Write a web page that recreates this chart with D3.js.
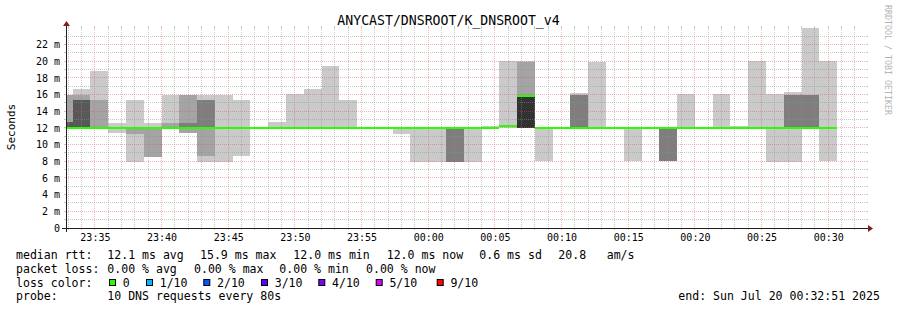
<!DOCTYPE html>
<html>
<head>
<meta charset="utf-8">
<script src="https://cdn.jsdelivr.net/npm/d3@7"></script>
<style>
    body { margin: 0; background: #fff; }
    text { font-family: "DejaVu Sans Mono", monospace; }
</style>
</head>
<body>
<div id="chart"></div>
<script>
// --- Data ---

// Each step is 80 s long, the first full step ends at 23:33:20
const stepSeconds = 80;
const firstStepEnd = new Date(2025, 6, 19, 23, 33, 20);
const viewStart = new Date(2025, 6, 19, 23, 32, 50);
const viewEnd = new Date(2025, 6, 20, 0, 32, 50);

// The 10 sorted ping times of every step in ms
const pings = [
    [12.0, 12.0, 12.0, 12.0, 12.0, 12.0, 12.7, 12.7, 16.0, 16.0],
    [12.0, 12.0, 12.0, 12.0, 12.0, 12.0, 15.36, 15.36, 16.0, 16.7],
    [12.0, 12.0, 12.0, 12.0, 12.0, 12.0, 12.0, 12.0, 15.36, 18.84],
    [11.36, 12.0, 12.0, 12.0, 12.0, 12.0, 12.0, 12.0, 12.0, 12.64],
    [7.96, 11.3, 12.0, 12.0, 12.0, 12.0, 12.0, 12.0, 12.0, 15.36],
    [8.56, 8.56, 12.0, 12.0, 12.0, 12.0, 12.0, 12.0, 12.0, 12.6],
    [12.0, 12.0, 12.0, 12.0, 12.0, 12.0, 12.0, 12.0, 12.64, 16.0],
    [11.36, 11.36, 12.0, 12.0, 12.0, 12.0, 12.0, 12.64, 16.0, 16.0],
    [7.96, 8.64, 12.0, 12.0, 12.0, 12.0, 12.0, 15.36, 15.36, 16.0],
    [7.96, 12.0, 12.0, 12.0, 12.0, 12.0, 12.0, 12.0, 12.0, 16.0],
    [8.64, 12.0, 12.0, 12.0, 12.0, 12.0, 12.0, 12.0, 12.0, 15.36],
    [12.0, 12.0, 12.0, 12.0, 12.0, 12.0, 12.0, 12.0, 12.0, 12.0],
    [12.0, 12.0, 12.0, 12.0, 12.0, 12.0, 12.0, 12.0, 12.0, 12.76],
    [12.0, 12.0, 12.0, 12.0, 12.0, 12.0, 12.0, 12.0, 12.0, 16.08],
    [12.0, 12.0, 12.0, 12.0, 12.0, 12.0, 12.0, 12.0, 12.0, 16.68],
    [12.0, 12.0, 12.0, 12.0, 12.0, 12.0, 12.0, 12.0, 12.0, 19.44],
    [12.0, 12.0, 12.0, 12.0, 12.0, 12.0, 12.0, 12.0, 12.0, 15.36],
    [12.0, 12.0, 12.0, 12.0, 12.0, 12.0, 12.0, 12.0, 12.0, 12.0],
    [12.0, 12.0, 12.0, 12.0, 12.0, 12.0, 12.0, 12.0, 12.0, 12.0],
    [11.3, 12.0, 12.0, 12.0, 12.0, 12.0, 12.0, 12.0, 12.0, 12.0],
    [7.96, 12.0, 12.0, 12.0, 12.0, 12.0, 12.0, 12.0, 12.0, 12.0],
    [7.96, 12.0, 12.0, 12.0, 12.0, 12.0, 12.0, 12.0, 12.0, 12.0],
    [7.96, 7.96, 7.96, 12.0, 12.0, 12.0, 12.0, 12.0, 12.0, 12.0],
    [7.96, 12.0, 12.0, 12.0, 12.0, 12.0, 12.0, 12.0, 12.0, 12.0],
    [12.0, 12.0, 12.0, 12.0, 12.0, 12.0, 12.0, 12.0, 12.0, 12.28],
    [12.0, 12.0, 12.0, 12.0, 12.0, 12.0, 12.0, 12.0, 12.0, 20.04],
    [12.0, 12.0, 12.0, 12.0, 12.0, 15.92, 15.92, 15.92, 19.96, 20.0],
    [8.04, 12.0, 12.0, 12.0, 12.0, 12.0, 12.0, 12.0, 12.0, 12.0],
    [12.0, 12.0, 12.0, 12.0, 12.0, 12.0, 12.0, 12.0, 12.0, 12.0],
    [12.0, 12.0, 12.0, 12.0, 12.0, 12.0, 12.0, 16.0, 16.0, 16.2],
    [12.0, 12.0, 12.0, 12.0, 12.0, 12.0, 12.0, 12.0, 12.0, 19.96],
    [12.0, 12.0, 12.0, 12.0, 12.0, 12.0, 12.0, 12.0, 12.0, 12.0],
    [8.04, 12.0, 12.0, 12.0, 12.0, 12.0, 12.0, 12.0, 12.0, 12.0],
    [12.0, 12.0, 12.0, 12.0, 12.0, 12.0, 12.0, 12.0, 12.0, 12.0],
    [8.04, 8.04, 8.04, 12.0, 12.0, 12.0, 12.0, 12.0, 12.0, 12.0],
    [12.0, 12.0, 12.0, 12.0, 12.0, 12.0, 12.0, 12.0, 12.0, 16.04],
    [12.0, 12.0, 12.0, 12.0, 12.0, 12.0, 12.0, 12.0, 12.0, 12.0],
    [12.0, 12.0, 12.0, 12.0, 12.0, 12.0, 12.0, 12.0, 12.0, 16.04],
    [12.0, 12.0, 12.0, 12.0, 12.0, 12.0, 12.0, 12.0, 12.0, 12.28],
    [12.0, 12.0, 12.0, 12.0, 12.0, 12.0, 12.0, 12.0, 12.0, 20.08],
    [7.96, 12.0, 12.0, 12.0, 12.0, 12.0, 12.0, 12.0, 12.0, 16.08],
    [7.96, 12.0, 12.0, 12.0, 12.0, 12.0, 12.0, 16.0, 16.0, 16.28],
    [12.0, 12.0, 12.0, 12.0, 12.0, 12.0, 12.0, 16.0, 16.0, 24.0],
    [8.04, 12.0, 12.0, 12.0, 12.0, 12.0, 12.0, 12.0, 12.0, 20.08]
];

// Median rtt of every step in ms
const median = [
    12.0, 12.0, 12.0, 12.0, 12.0, 12.0, 12.0, 12.0, 12.0, 12.0, 12.0,
    12.0, 12.0, 12.0, 12.0, 12.0, 12.0, 12.0, 12.0, 12.0, 12.0, 12.0,
    12.0, 12.0, 12.0, 12.2, 15.9, 12.0, 12.0, 12.0, 12.0, 12.0, 12.0,
    12.0, 12.0, 12.0, 12.0, 12.0, 12.0, 12.0, 12.0, 12.0, 12.0, 12.0
];

// Packet loss of every step (lost pings out of 10)
const loss = [
    0, 0, 0, 0, 0, 0, 0, 0, 0, 0, 0,
    0, 0, 0, 0, 0, 0, 0, 0, 0, 0, 0,
    0, 0, 0, 0, 0, 0, 0, 0, 0, 0, 0,
    0, 0, 0, 0, 0, 0, 0, 0, 0, 0, 0
];

const yTickValues = [0, 2, 4, 6, 8, 10, 12, 14, 16, 18, 20, 22];
const lossLabels = ["0", "1/10", "2/10", "3/10", "4/10", "5/10", "9/10"];
const lossColors = ["#26ff00", "#00b8ff", "#0059ff", "#5e00ff", "#7e00ff", "#dd00ff", "#ff0000"];
const rttStats = ["12.1 ms avg", "15.9 ms max", "12.0 ms min", "12.0 ms now", "0.6 ms sd", "20.8", "am/s"];
const lossStats = ["0.00 % avg", "0.00 % max", "0.00 % min", "0.00 % now"];
const probeText = "10 DNS requests every 80s";
const endText = "end: Sun Jul 20 00:32:51 2025";
const titleText = "ANYCAST/DNSROOT/K_DNSROOT_v4";

// --- Drawing ---

const width = 897;
const height = 310;
const plot = { left: 66, top: 28, right: 866, bottom: 228 };

const svg = d3.select("#chart").append("svg")
    .attr("width", width)
    .attr("height", height);

svg.append("rect").attr("width", width).attr("height", height).attr("fill", "#ffffff");

// Scales
const x = d3.scaleTime().domain([viewStart, viewEnd]).range([plot.left, plot.right]);
const y = d3.scaleLinear().domain([0, 24]).range([plot.bottom, plot.top]);

// Time span of a step
const stepEnd = i => new Date(firstStepEnd.getTime() + i * stepSeconds * 1000);
const stepStart = i => new Date(stepEnd(i).getTime() - stepSeconds * 1000);

// Smoke colours like smokeping: outer band light, inner bands darker
const half = 5;
const bandColors = d3.range(1, half + 1).map(i => {
    const c = Math.floor(190 / half * (half - i)) + 50;
    return d3.rgb(c, c, c).formatHex();
});

svg.append("clipPath").attr("id", "plot-clip")
    .append("rect")
    .attr("x", plot.left).attr("y", plot.top)
    .attr("width", plot.right - plot.left).attr("height", plot.bottom - plot.top);

const smoke = [];
pings.forEach((p, i) => {
    for (let b = 0; b < half; b++) {
        const lo = p[b], hi = p[p.length - 1 - b];
        if (hi > lo) smoke.push({ i, b, lo, hi });
    }
});

svg.append("g").attr("clip-path", "url(#plot-clip)")
    .selectAll("rect")
    .data(smoke)
    .enter()
    .append("rect")
    .attr("x", d => x(stepStart(d.i)))
    .attr("width", d => x(stepEnd(d.i)) - x(stepStart(d.i)))
    .attr("y", d => y(d.hi))
    .attr("height", d => y(d.lo) - y(d.hi))
    .attr("fill", d => bandColors[d.b])
    .attr("shape-rendering", "crispEdges");

// Grid on top of the smoke, as rrdtool does
const grid = svg.append("g");
const minorColor = "rgba(143,143,143,0.5)";
const majorColor = "rgba(222,79,79,0.42)";
const px = v => Math.floor(v) + 0.5;
const py = v => Math.floor(v - 0.3) + 0.5;

const minuteTicks = d3.timeMinute.every(1).range(viewStart, viewEnd);
minuteTicks.forEach(t => {
    const major = t.getMinutes() % 5 === 0;
    const xx = px(x(t));
    const col = major ? majorColor : minorColor;
    grid.append("line")
        .attr("x1", xx).attr("x2", xx)
        .attr("y1", plot.top).attr("y2", plot.bottom)
        .attr("stroke", col).attr("stroke-dasharray", "1,1");
    grid.append("line")
        .attr("x1", xx).attr("x2", xx).attr("y1", plot.top - 2).attr("y2", plot.top)
        .attr("stroke", col);
    grid.append("line")
        .attr("x1", xx).attr("x2", xx).attr("y1", plot.bottom).attr("y2", plot.bottom + 2)
        .attr("stroke", col);
});

d3.range(1, 24).forEach(v => {
    const major = v % 2 === 0;
    const yy = py(y(v));
    const col = major ? majorColor : minorColor;
    grid.append("line")
        .attr("x1", plot.left).attr("x2", plot.right)
        .attr("y1", yy).attr("y2", yy)
        .attr("stroke", col).attr("stroke-dasharray", "1,1");
    grid.append("line")
        .attr("x1", plot.left - 2).attr("x2", plot.left).attr("y1", yy).attr("y2", yy)
        .attr("stroke", col);
    grid.append("line")
        .attr("x1", plot.right).attr("x2", plot.right + 2).attr("y1", yy).attr("y2", yy)
        .attr("stroke", col);
});

// Median band coloured by packet loss
svg.append("g").attr("clip-path", "url(#plot-clip)")
    .selectAll("rect")
    .data(median)
    .enter()
    .append("rect")
    .attr("x", (d, i) => x(stepStart(i)))
    .attr("width", (d, i) => x(stepEnd(i)) - x(stepStart(i)))
    .attr("y", d => y(d) - 1)
    .attr("height", 2)
    .attr("fill", (d, i) => lossColors[Math.min(loss[i], 6)])
    .attr("shape-rendering", "crispEdges");

// Axes through d3
const xAxis = svg.append("g")
    .attr("transform", `translate(0,${plot.bottom})`)
    .call(d3.axisBottom(x)
        .ticks(d3.timeMinute.every(5))
        .tickFormat(d3.timeFormat("%H:%M"))
        .tickSize(0)
        .tickPadding(6));
xAxis.select(".domain").remove();
xAxis.selectAll("text")
    .attr("font-family", "DejaVu Sans Mono")
    .attr("font-size", "10px")
    .attr("fill", "#000");

const yAxis = svg.append("g")
    .attr("transform", `translate(${plot.left},0)`)
    .call(d3.axisLeft(y)
        .tickValues(yTickValues)
        .tickFormat(d => d === 0 ? "0" : d + " m")
        .tickSize(0)
        .tickPadding(6));
yAxis.select(".domain").remove();
yAxis.selectAll("text")
    .attr("font-family", "DejaVu Sans Mono")
    .attr("font-size", "10px")
    .attr("fill", "#000");

// Axis lines and arrows
const axisColor = "#1f1f1f";
const arrowColor = "#801f1f";
svg.append("line")
    .attr("x1", plot.left - 4).attr("x2", plot.right + 4)
    .attr("y1", plot.bottom + 0.5).attr("y2", plot.bottom + 0.5)
    .attr("stroke", axisColor);
svg.append("line")
    .attr("x1", plot.left + 0.5).attr("x2", plot.left + 0.5)
    .attr("y1", plot.bottom + 4).attr("y2", plot.top - 4)
    .attr("stroke", axisColor);
svg.append("path")
    .attr("d", `M${plot.right + 2},${plot.bottom - 3}L${plot.right + 2},${plot.bottom + 4}L${plot.right + 7},${plot.bottom + 0.5}Z`)
    .attr("fill", arrowColor);
svg.append("path")
    .attr("d", `M${plot.left - 3},${plot.top - 2}L${plot.left + 4},${plot.top - 2}L${plot.left + 0.5},${plot.top - 7}Z`)
    .attr("fill", arrowColor);

// Title, axis name and watermark
svg.append("text")
    .attr("x", 448.5).attr("y", 24.5)
    .attr("text-anchor", "middle")
    .attr("font-size", "13.2px")
    .attr("fill", "#000")
    .text(titleText);

svg.append("text")
    .attr("transform", "translate(14.5,127) rotate(-90)")
    .attr("text-anchor", "middle")
    .attr("font-size", "11px")
    .attr("fill", "#000")
    .text("Seconds");

svg.append("text")
    .attr("transform", "translate(885,5) rotate(90)")
    .attr("font-size", "8.3px")
    .attr("fill", "#b4b4b4")
    .text("RRDTOOL / TOBI OETIKER");

// Legend
const legend = svg.append("g")
    .attr("font-size", "11.55px")
    .attr("fill", "#000");
const rowY = [259, 272.5, 286.5, 300];

legend.append("text").attr("x", 16).attr("y", rowY[0]).text("median rtt:");
const rttX = [107.3, 200, 293.3, 386.7, 479.3, 558.3, 606.7];
rttStats.forEach((s, i) => {
    legend.append("text").attr("x", rttX[i]).attr("y", rowY[0]).text(s);
});

legend.append("text").attr("x", 16).attr("y", rowY[1]).text("packet loss:");
const lossX = [107.3, 194, 279.3, 366];
lossStats.forEach((s, i) => {
    legend.append("text").attr("x", lossX[i]).attr("y", rowY[1]).text(s);
});

legend.append("text").attr("x", 16).attr("y", rowY[2]).text("loss color:");
const boxX = [109, 146, 203.3, 261, 318.3, 375.7, 436.7];
lossLabels.forEach((s, i) => {
    legend.append("rect")
        .attr("x", boxX[i] + 0.5).attr("y", rowY[2] - 7)
        .attr("width", 6).attr("height", 6)
        .attr("fill", lossColors[i])
        .attr("stroke", "#000");
    legend.append("text").attr("x", boxX[i] + 13.7).attr("y", rowY[2]).text(s);
});

legend.append("text").attr("x", 16).attr("y", rowY[3]).text("probe:");
legend.append("text").attr("x", 107.3).attr("y", rowY[3]).text(probeText);
legend.append("text").attr("x", 678.3).attr("y", rowY[3]).text(endText);
</script>
</body>
</html>
